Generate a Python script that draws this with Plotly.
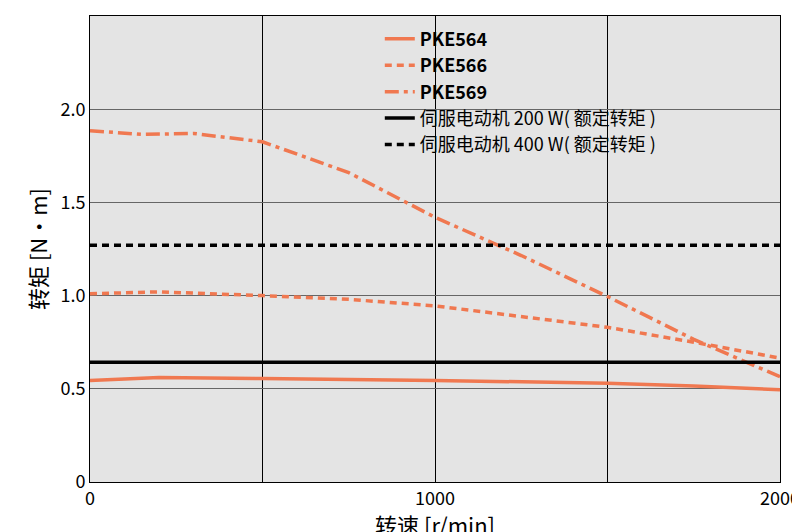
import plotly.graph_objects as go

x564 = [0, 200, 500, 1000, 1500, 1750, 2000]
y564 = [0.544, 0.56, 0.555, 0.545, 0.53, 0.515, 0.495]
x566 = [0, 200, 500, 750, 1000, 1500, 1750, 2000]
y566 = [1.01, 1.02, 1.0, 0.98, 0.945, 0.83, 0.75, 0.665]
x569 = [0, 150, 300, 500, 750, 1000, 1250, 1500, 1750, 2000]
y569 = [1.885, 1.865, 1.87, 1.825, 1.66, 1.42, 1.215, 0.995, 0.765, 0.565]
servo200 = 0.643
servo400 = 1.27
xr = [0, 2000]

orange = "#f07850"
fig = go.Figure()
fig.add_trace(go.Scatter(x=x564, y=y564, mode="lines", name="<b>PKE564</b>", line=dict(color=orange, width=3.5)))
fig.add_trace(go.Scatter(x=x566, y=y566, mode="lines", name="<b>PKE566</b>", line=dict(color=orange, width=3.5, dash="7px,5px")))
fig.add_trace(go.Scatter(x=x569, y=y569, mode="lines", name="<b>PKE569</b>", line=dict(color=orange, width=3.5, dash="14px,5px,4px,5px")))
fig.add_trace(go.Scatter(x=xr, y=[servo200]*2, mode="lines", name="伺服电动机 200 W( 额定转矩 )", line=dict(color="black", width=3.5)))
fig.add_trace(go.Scatter(x=xr, y=[servo400]*2, mode="lines", name="伺服电动机 400 W( 额定转矩 )", line=dict(color="black", width=3.5, dash="7px,5px")))

fig.update_layout(
    width=800, height=532, margin=dict(l=82, r=28, t=8, b=58),
    plot_bgcolor="#e4e4e4", paper_bgcolor="white",
    font=dict(family="Noto Sans CJK SC", size=18, color="black"),
    showlegend=True,
    legend=dict(x=0.42, y=0.99, xanchor="left", yanchor="top", bgcolor="rgba(0,0,0,0)", font=dict(size=18), tracegroupgap=0),
    xaxis=dict(range=[0, 2000], tickvals=[0, 500, 1000, 1500, 2000], ticktext=["0", "", "1000", "", "2000"],
               showgrid=True, gridcolor="black", gridwidth=1, zeroline=False, showline=True, linecolor="black", mirror=True,
               ticks="", title=dict(text="转速 [r/min]", standoff=4)),
    yaxis=dict(range=[0, 2.5001], tickvals=[0, 0.5, 1, 1.5, 2, 2.5], ticktext=["0", "0.5", "1.0", "1.5", "2.0", "2.5"],
               showgrid=True, gridcolor="#666666", gridwidth=1, zeroline=False, showline=True, linecolor="black", mirror=True,
               ticks="", title=dict(text="转矩 [N·m]", standoff=6)),
)
fig.write_html("out.html")
